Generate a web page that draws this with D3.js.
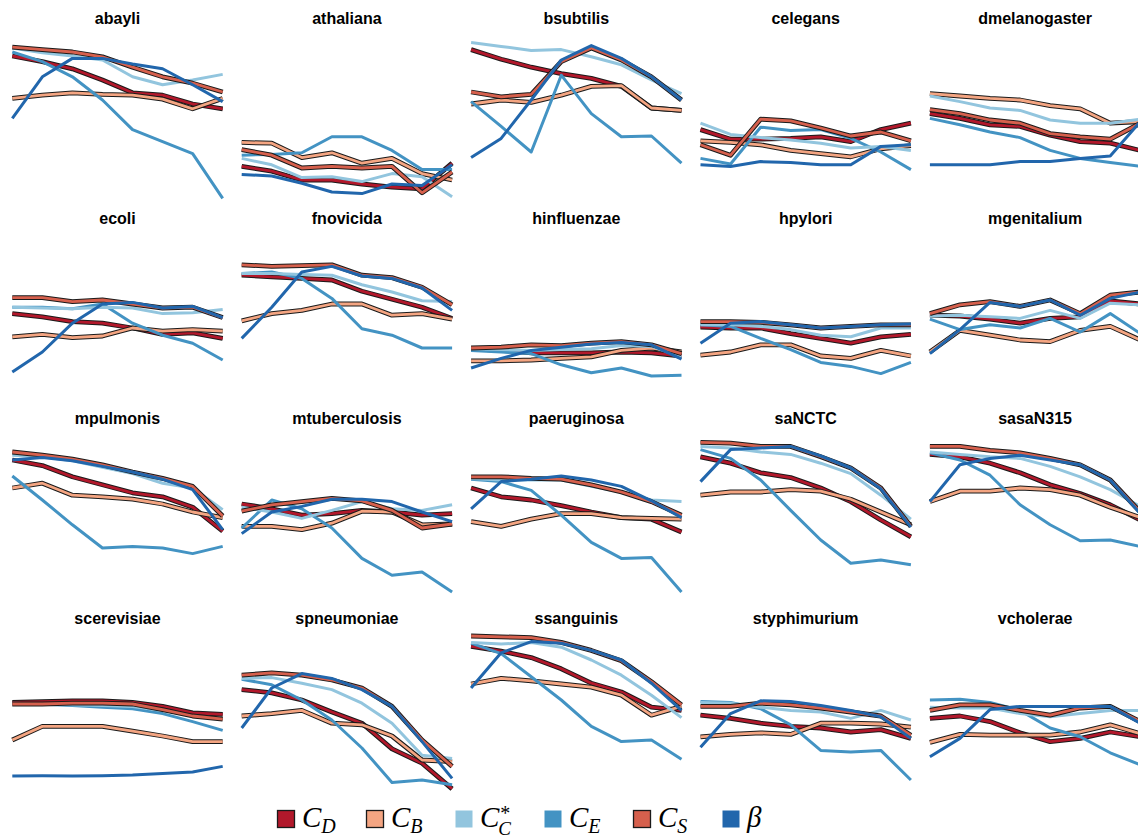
<!DOCTYPE html>
<html>
<head>
<meta charset="utf-8">
<script src="https://cdn.jsdelivr.net/npm/d3@7"></script>
<style>
  body { margin: 0; background: #fff; }
  .title { font-family: "Liberation Sans", Arial, sans-serif; font-weight: bold; font-size: 16px; text-anchor: middle; fill: #000; }
  .leg { font-family: "Liberation Serif", "DejaVu Serif", serif; font-style: italic; fill: #000; }
</style>
</head>
<body>
<script>
// page + panel geometry
const SCREEN = { width: 1138, height: 839 };
const GRID = {
    cols: 5,
    left: 12.3,
    colStep: 229.4,
    panelW: 210.4,
    top: 40,
    rowStep: 200,
    panelH: 160,
    titleOffset: -16
};

const species = [
    'abayli', 'athaliana', 'bsubtilis', 'celegans', 'dmelanogaster',
    'ecoli', 'fnovicida', 'hinfluenzae', 'hpylori', 'mgenitalium',
    'mpulmonis', 'mtuberculosis', 'paeruginosa', 'saNCTC', 'sasaN315',
    'scerevisiae', 'spneumoniae', 'ssanguinis', 'styphimurium', 'vcholerae'
];

const xSteps = [1, 2, 3, 4, 5, 6, 7, 8];

// one row per species, in the order above
const C_D = [
    [90, 86.5, 82, 75, 67, 65.5, 60, 57],
    [21, 18, 12.5, 12.5, 10, 8, 7, 23],
    [94, 88, 83, 79, 76, 71, 57.5, 56],
    [44, 38, 38, 38.5, 39.5, 36.5, 44, 48],
    [54, 51, 47, 46, 40.5, 36.5, 35.5, 31],
    [54, 52, 49, 48, 45, 41, 42, 38.5],
    [78, 77, 76, 75, 68, 63, 58, 51],
    [32, 31, 29.5, 29.5, 29.5, 30, 29.5, 27.5],
    [45.5, 45, 45, 41.5, 38.5, 35.5, 39.5, 41],
    [53, 52.5, 50.5, 48, 51, 52, 62, 60],
    [87.5, 84, 77, 72, 67, 64.5, 58, 43],
    [60, 57, 53, 54, 56, 55, 53, 54],
    [70, 64.5, 62.5, 59, 55, 51.5, 50.5, 42.5],
    [89.5, 85.5, 79.5, 76.5, 70, 61.5, 50, 39.5],
    [91, 89.5, 85.5, 79.5, 72, 66.5, 59.5, 50],
    [61, 61.5, 62, 62, 61, 58.5, 54.5, 53.5],
    [69, 67, 62.5, 55, 48, 32, 23, 7],
    [96, 93, 89, 82, 73, 67.5, 58, 56],
    [53, 51, 48, 46, 45, 42.5, 44, 38.5],
    [51, 52.5, 49, 42, 36.5, 38.5, 42.5, 39.5]
];

const C_B = [
    [63.5, 65.5, 67, 66, 65.5, 63, 57, 63.5],
    [36, 35.5, 26.5, 29.5, 23, 26, 16.5, 12.5],
    [60, 62.5, 61, 65.5, 71, 71.5, 57.5, 56],
    [37, 36, 34.5, 31, 29, 27, 32, 34],
    [66.5, 65, 63.5, 62.5, 59, 57, 48, 49],
    [39.5, 41, 39, 40, 45, 43, 44, 43],
    [49.5, 54, 56, 60, 60, 53, 54, 50.5],
    [24.5, 24.5, 25, 26, 27, 31, 32.5, 30],
    [28, 30, 34.5, 34.5, 27.5, 26, 31, 27.5],
    [30, 43.5, 40.5, 37.5, 36.5, 43.5, 46, 37.5],
    [70, 73, 65.5, 64.5, 63, 60, 55, 51.5],
    [46, 46, 44, 48, 55.5, 55, 47, 47.5],
    [49, 46, 50.5, 54, 54, 51.5, 51, 50.5],
    [65.5, 67.5, 67.5, 69, 68, 63, 55, 47],
    [61.5, 68, 68, 70, 69, 65.5, 58, 51.5],
    [37.5, 46, 46, 46, 43, 40, 36.5, 36.5],
    [52.5, 54, 56, 48, 47, 40, 25, 24],
    [72.5, 76, 74.5, 72.5, 70.5, 65.5, 53, 58.5],
    [39.5, 41, 42, 41, 48, 48, 47.5, 45.5],
    [36, 41, 40.5, 40.5, 40.5, 42.5, 47, 41.5]
];

const C_C = [
    [95, 92, 90, 87.5, 77, 72, 75, 78.5],
    [26, 22, 14, 14.5, 11.5, 16.5, 14.5, 2],
    [98.5, 96, 93.5, 94, 89.5, 84.5, 75, 66.5],
    [48, 41, 39, 37.5, 35.5, 32.5, 33.5, 31],
    [65, 61.5, 57.5, 56, 50, 48, 48, 50.5],
    [58, 57.5, 57, 58, 57.5, 54, 54.5, 56.5],
    [79, 79, 78.5, 78, 72, 67.5, 62, 61.5],
    [32, 31.5, 31, 31.5, 32, 34, 33.5, 27],
    [47, 47, 46, 44, 40.5, 39.5, 45, 45],
    [52.5, 53, 52, 51, 56, 51, 60.5, 59.5],
    [90.5, 89.5, 87, 83, 79, 73, 70, 56.5],
    [58, 55, 51, 56, 61.5, 57, 56, 59.5],
    [76, 75, 75, 75, 71, 67.5, 62.5, 61.5],
    [96, 95, 92.5, 91, 85.5, 79, 65.5, 50.5],
    [92.5, 91, 89.5, 88.5, 83.5, 77, 69, 58.5],
    [60.5, 60, 59.5, 59, 58.5, 56, 52.5, 51],
    [76, 76.5, 73, 69, 60.5, 48, 28, 26],
    [98.5, 97.5, 98.5, 95.5, 87.5, 78, 65.5, 51.5],
    [61, 60.5, 58, 56, 55, 51, 56, 50],
    [58, 57.5, 57.5, 54, 52, 54, 56, 56]
];

const C_E = [
    [92.5, 86.5, 77, 62.5, 44, 36.5, 29, 1],
    [28, 28.5, 29.5, 39.5, 39.5, 31, 19, 19],
    [61.5, 46, 30, 78, 54, 39.5, 40, 23],
    [26, 22.5, 45.5, 43.5, 44, 38.5, 30, 19],
    [51, 47, 42.5, 39, 31, 26, 23.5, 21],
    [58, 58, 57, 60, 48, 40.5, 35.5, 25],
    [79, 80, 76, 63.5, 44.5, 40.5, 32.5, 32.5],
    [31, 30, 29, 22, 17, 20, 15, 15.5],
    [47, 46, 38.5, 31.5, 23.5, 21, 16.5, 23.5],
    [50.5, 44, 47, 45, 51, 42.5, 54, 41.5],
    [77.5, 62.5, 47, 32.5, 33.5, 32.5, 29, 33.5],
    [45, 62.5, 57, 45, 26, 15.5, 17.5, 5],
    [75.5, 74, 68.5, 53, 36, 26, 26.5, 5],
    [94, 88.5, 75, 56, 37.5, 23, 25, 22],
    [92, 87.5, 78, 59.5, 47, 37, 37.5, 33.5],
    [60, 59.8, 59, 58, 57, 54, 49, 43.5],
    [75.5, 72, 62.5, 50, 32.5, 11, 12.5, 9.5],
    [98, 91.5, 77, 62.5, 46, 36.5, 37.5, 25.5],
    [61.5, 61, 57, 47, 31, 30, 31, 12.5],
    [62.5, 63, 61, 56, 45, 39.5, 29.5, 22]
];

const C_S = [
    [95.5, 94, 92.5, 89.5, 83, 77, 73, 67.5],
    [31.5, 28, 20, 21, 20, 21, 4.5, 17.5],
    [67.5, 64.5, 66, 86.5, 95, 87.5, 77, 62.5],
    [34.5, 28, 50.5, 49.5, 45, 40, 42.5, 37],
    [56.5, 54, 50, 48, 41.5, 39.5, 38, 48],
    [64, 64, 61.5, 62.5, 60, 57.5, 58, 51.5],
    [84.5, 83.5, 84, 84.5, 78, 76.5, 70.5, 59.5],
    [32.5, 33, 34.5, 34, 35.5, 36.5, 34.5, 29],
    [49, 49, 48.5, 47, 45, 46, 47, 47],
    [54, 59.5, 61.5, 58.5, 62.5, 54, 65.5, 67.5],
    [92.5, 90.5, 88, 84.5, 80, 76, 71, 52.5],
    [55.5, 59.5, 61.5, 63.5, 62, 56, 45, 47.5],
    [77, 77, 76, 75.5, 72, 67.5, 61.5, 53],
    [98.5, 98, 96, 96, 89.5, 82.5, 70, 46],
    [96, 96, 93.5, 92, 88.5, 84.5, 75, 55],
    [60, 60, 60.5, 60.5, 60, 56.5, 52.5, 50.5],
    [78, 79.5, 78, 75, 70, 58.5, 37.5, 21],
    [102.5, 102, 101.5, 98.5, 93.5, 87, 74, 59.5],
    [58.5, 58.5, 60.5, 59.5, 57.5, 55, 52.5, 40.5],
    [56, 59.5, 59.5, 56, 53, 57.5, 58.5, 49]
];

const BETA = [
    [51, 77, 88.5, 88.5, 85, 82, 72, 61.5],
    [16, 15, 10.5, 5, 4, 10, 9, 22],
    [26.5, 38.5, 62.5, 87.5, 96.5, 88.5, 77, 62.5],
    [22, 21, 24, 23.5, 22, 22, 33.5, 34.5],
    [22, 22, 22, 24, 24, 26, 27.5, 49],
    [17.5, 30, 48, 60, 61, 57.5, 58.5, 51.5],
    [38.5, 58, 80, 83.5, 77.5, 76, 70, 56],
    [20, 26, 31, 33, 35, 36, 34.5, 25.5],
    [35.5, 48, 49, 47, 45, 46, 47, 47.5],
    [29, 44, 61, 58.5, 62.5, 53, 63.5, 67.5],
    [87.5, 89, 87, 83.5, 80, 75.5, 69, 44],
    [41.5, 55, 58.5, 63, 63, 61.5, 55, 49],
    [57, 74, 75.5, 77.5, 75, 71, 62, 51.5],
    [74, 94, 95, 96, 90, 82.5, 69.5, 45.5],
    [61.5, 84.5, 88.5, 90.5, 87.5, 84.5, 75, 54],
    [15, 15.2, 15, 15.2, 15.6, 16.5, 17.5, 21],
    [45, 70, 79, 76, 69, 58.5, 36.5, 13.5],
    [70, 92, 99, 98, 93.5, 87.5, 73, 56],
    [33, 54, 62, 61.5, 59, 56, 52, 38.5],
    [27, 38.5, 56.5, 58.5, 58.5, 58.5, 58.5, 48]
];

// legend order
const seriesNames = ['C_D', 'C_B', 'C_C', 'C_E', 'C_S', 'beta'];
const seriesColors = ['#b2182b', '#f4a582', '#92c5de', '#4393c3', '#d6604d', '#2166ac'];
const seriesOutlined = [true, true, false, false, true, false];
const seriesValues = [C_D, C_B, C_C, C_E, C_S, BETA];
// order in which lines are stacked in a panel
const drawOrder = [0, 1, 3, 2, 4, 5];

const svg = d3.select('body').append('svg')
    .attr('width', SCREEN.width)
    .attr('height', SCREEN.height);

const xScale = d3.scalePoint().domain(xSteps).range([0, GRID.panelW]);
const yScale = d3.scaleLinear().domain([0, 100]).range([GRID.panelH, 0]);

const line = d3.line()
    .x((d, i) => xScale(xSteps[i]))
    .y(d => yScale(d));

species.forEach((name, k) => {
    const col = k % GRID.cols,
        row = Math.floor(k / GRID.cols);
    const panel = svg.append('g')
        .attr('transform', `translate(${GRID.left + col * GRID.colStep},${GRID.top + row * GRID.rowStep})`);

    panel.append('text')
        .attr('class', 'title')
        .attr('x', GRID.panelW / 2)
        .attr('y', GRID.titleOffset)
        .text(name);

    drawOrder.forEach(s => {
        const vals = seriesValues[s][k];
        if (seriesOutlined[s]) {
            panel.append('path')
                .attr('d', line(vals))
                .attr('fill', 'none')
                .attr('stroke', '#1a1a1a')
                .attr('stroke-width', 4.8)
                .attr('stroke-linejoin', 'round');
        }
        panel.append('path')
            .attr('d', line(vals))
            .attr('fill', 'none')
            .attr('stroke', seriesColors[s])
            .attr('stroke-width', seriesOutlined[s] ? 2.8 : 3)
            .attr('stroke-linejoin', 'round');
    });
});

// legend
const legend = svg.append('g').attr('transform', 'translate(277,810)');
const legendStep = 89;
const labelParts = [
    { main: 'C', sub: 'D' },
    { main: 'C', sub: 'B' },
    { main: 'C', sub: 'C', sup: '*' },
    { main: 'C', sub: 'E' },
    { main: 'C', sub: 'S' },
    { main: 'β' }
];

seriesNames.forEach((s, i) => {
    const item = legend.append('g').attr('transform', `translate(${i * legendStep},0)`);
    item.append('rect')
        .attr('x', 0.5).attr('y', 0.5)
        .attr('width', 17).attr('height', 17)
        .attr('fill', seriesColors[i])
        .attr('stroke', seriesOutlined[i] ? '#1a1a1a' : 'none')
        .attr('stroke-width', 1.3);
    const p = labelParts[i];
    const label = item.append('text')
        .attr('class', 'leg')
        .attr('x', 25).attr('y', 17)
        .attr('font-size', 29);
    label.append('tspan').text(p.main);
    if (p.sup) {
        // star raised, then the subscript tucked back underneath it
        label.append('tspan')
            .attr('font-size', 20)
            .attr('font-style', 'normal')
            .attr('dx', 1).attr('dy', -7)
            .text(p.sup);
        label.append('tspan')
            .attr('font-size', 19)
            .attr('dx', -12).attr('dy', 15)
            .text(p.sub);
    } else if (p.sub) {
        label.append('tspan')
            .attr('font-size', 20)
            .attr('dy', 6)
            .text(p.sub);
    }
});
</script>
</body>
</html>
